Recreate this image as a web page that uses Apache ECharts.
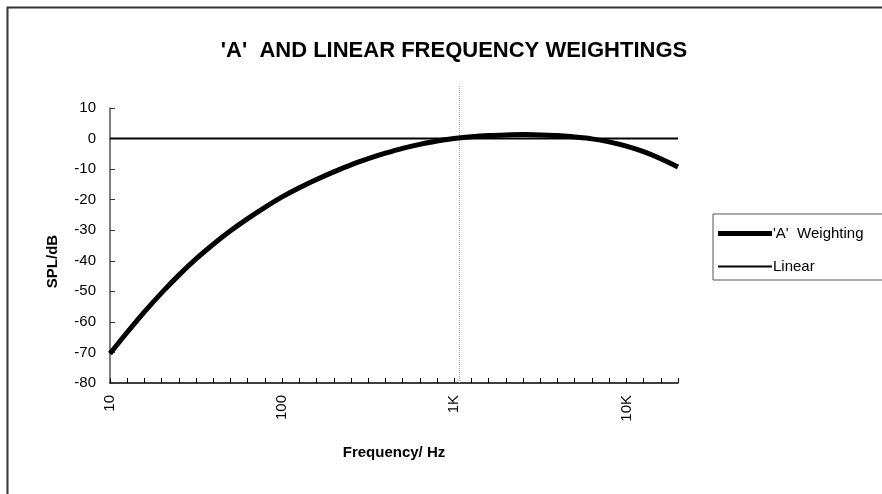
<!DOCTYPE html>
<html>
<head>
<meta charset="utf-8">
<script src="https://cdn.jsdelivr.net/npm/echarts@6/dist/echarts.min.js"></script>
<style>html,body{margin:0;padding:0;background:#fff;}#c{width:882px;height:494px;}</style>
</head>
<body>
<div id="c"></div>
<script>
// 1/3-octave band centre frequencies (category axis)
var freqs = ['10','12.5','16','20','25','31.5','40','50','63','80',
             '100','125','160','200','250','315','400','500','630','800',
             '1K','1.25K','1.6K','2K','2.5K','3.15K','4K','5K','6.3K','8K',
             '10K','12.5K','16K','20K'];
// 'A' weighting, dB
var aWeighting = [-70.4,-63.4,-56.7,-50.5,-44.7,-39.4,-34.6,-30.2,-26.2,-22.5,
                  -19.1,-16.1,-13.4,-10.9,-8.6,-6.6,-4.8,-3.2,-1.9,-0.8,
                  0,0.6,1.0,1.2,1.3,1.2,1.0,0.5,-0.1,-1.1,
                  -2.5,-4.3,-6.6,-9.3];
// Linear weighting, dB
var linear = [0,0,0,0,0,0,0,0,0,0,
              0,0,0,0,0,0,0,0,0,0,
              0,0,0,0,0,0,0,0,0,0,
              0,0,0,0];
// labelled x ticks
var xTickLabels = ['10','100','1K','10K'];
// y ticks
var yMin = -80, yMax = 10, yStep = 10;
// reference marker just above 1 kHz (position in band-index units)
var refBand = [20.3, 20.3];
var refSpan = [0, 1];

var chart = echarts.init(document.getElementById('c'), null, {renderer:'canvas'});
var font = 'Arial, "Liberation Sans", sans-serif';
chart.setOption({
  animation: false,
  backgroundColor: '#fff',
  graphic: [{
    type: 'rect', left: 5, top: 5, shape: {width: 900, height: 600},
    style: {fill: 'none', stroke: '#333', lineWidth: 2}, silent: true
  }],
  title: {
    text: "'A'  AND LINEAR FREQUENCY WEIGHTINGS",
    left: 449, top: 35, textAlign: 'center',
    textStyle: {fontFamily: font, fontSize: 22, fontWeight: 'bold', color: '#000'}
  },
  legend: {
    orient: 'vertical', left: 713, top: 214,
    padding: [12, 30, 6, 5], itemGap: 18, itemWidth: 54, itemHeight: 14,
    borderColor: '#555', borderWidth: 1,
    textStyle: {fontFamily: font, fontSize: 15, color: '#000', padding: [0, 0, 0, -4]},
    data: [
      {name: "'A'  Weighting", icon: 'path://M0,0L54,0L54,5L0,5Z'},
      {name: 'Linear', icon: 'path://M0,0L54,0L54,2L0,2Z'}
    ]
  },
  grid: [
    {left: 110, right: 204, top: 108, bottom: 111},
    {left: 110, right: 204, top: 85, bottom: 111}
  ],
  xAxis: [{
    type: 'category', gridIndex: 0, data: freqs, boundaryGap: false,
    axisLine: {onZero: false, lineStyle: {color: '#000', width: 1.5}},
    axisTick: {inside: true, length: 5, interval: 0, lineStyle: {color: '#000'}},
    axisLabel: {
      interval: 0, rotate: 90, margin: 12,
      fontFamily: font, fontSize: 15, color: '#000',
      formatter: function (v) { return xTickLabels.indexOf(v) >= 0 ? v : ''; }
    },
    splitLine: {show: false},
    name: 'Frequency/ Hz', nameLocation: 'middle', nameGap: 62,
    nameTextStyle: {fontFamily: font, fontSize: 15, fontWeight: 'bold', color: '#000'}
  }, {
    type: 'value', gridIndex: 1, min: 0, max: freqs.length - 1, show: false
  }],
  yAxis: [{
    type: 'value', gridIndex: 0, min: yMin, max: yMax, interval: yStep,
    axisLine: {show: true, lineStyle: {color: '#555', width: 1.5}},
    axisTick: {show: true, inside: true, length: 5, lineStyle: {color: '#333'}},
    axisLabel: {margin: 14, fontFamily: font, fontSize: 15, color: '#000'},
    splitLine: {show: false},
    name: 'SPL/dB', nameLocation: 'middle', nameGap: 50,
    nameTextStyle: {fontFamily: font, fontSize: 15, fontWeight: 'bold', color: '#000', padding: [0, 32, 0, 0]}
  }, {
    type: 'value', gridIndex: 1, min: refSpan[0], max: refSpan[1], show: false
  }],
  series: [{
    type: 'line', xAxisIndex: 1, yAxisIndex: 1, silent: true,
    data: [[refBand[0], refSpan[0]], [refBand[1], refSpan[1]]],
    symbol: 'none', lineStyle: {color: '#999', width: 1, type: 'dotted'}, z: 1
  }, {
    name: 'Linear', type: 'line', data: linear, symbol: 'none',
    lineStyle: {color: '#000', width: 2}, itemStyle: {color: '#000'}, z: 3
  }, {
    name: "'A'  Weighting", type: 'line', data: aWeighting, symbol: 'none', smooth: 0.3,
    lineStyle: {color: '#000', width: 5}, itemStyle: {color: '#000'}, z: 4
  }]
});
</script>
</body>
</html>
